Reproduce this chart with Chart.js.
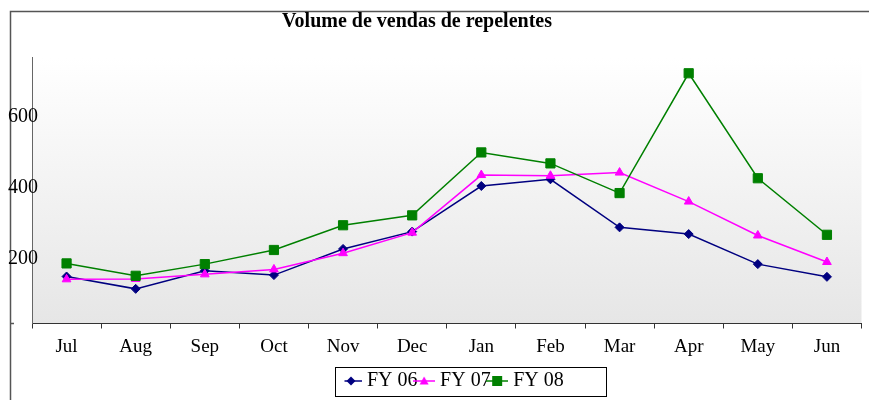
<!DOCTYPE html>
<html>
<head>
<meta charset="utf-8">
<script src="https://cdn.jsdelivr.net/npm/chart.js@4/dist/chart.umd.min.js"></script>
<style>
  html, body { margin: 0; padding: 0; background: #fff; }
  #wrap { width: 869px; height: 400px; }
</style>
</head>
<body>
<div id="wrap"><canvas id="vendas" width="869" height="400"></canvas></div>
<script>
// dados
const months = ["Jul", "Aug", "Sep", "Oct", "Nov", "Dec", "Jan", "Feb", "Mar", "Apr", "May", "Jun"];
const seriesNames = ["FY 06", "FY 07", "FY 08"];
const fy06 = [149, 114, 165, 153, 227, 276, 405, 424, 288, 269, 184, 148];
const fy07 = [141, 142, 155, 169, 215, 273, 436, 434, 443, 361, 265, 190];
const fy08 = [186, 151, 184, 224, 294, 322, 500, 469, 385, 724, 427, 267];
const yTicks = [200, 400, 600];

const serif = "'Liberation Serif', 'Times New Roman', serif";
const colors = ["#000080", "#ff00ff", "#008000"];
const styles = ["rectRot", "triangle", "rect"];

// posições do título e da legenda (fora do centro, como no original)
const titleCenterX = 417;
const legendX = 345;
const legendMidY = 381;

// ícone da legenda: linha + marcador
function legendIcon(color, style) {
  const c = document.createElement("canvas");
  c.width = 22;
  c.height = 12;
  const g = c.getContext("2d");
  g.strokeStyle = color;
  g.fillStyle = color;
  g.lineWidth = 1.5;
  g.beginPath();
  g.moveTo(0, 6);
  g.lineTo(22, 6);
  g.stroke();
  g.beginPath();
  if (style === "rectRot") {
    g.moveTo(11, 1.5); g.lineTo(15.5, 6); g.lineTo(11, 10.5); g.lineTo(6.5, 6);
  } else if (style === "triangle") {
    g.moveTo(11, 1.5); g.lineTo(15.5, 9.5); g.lineTo(6.5, 9.5);
  } else {
    g.rect(6, 1, 10, 10);
  }
  g.closePath();
  g.fill();
  return c;
}
const icons = colors.map((c, i) => legendIcon(c, styles[i]));

// fundo em degradê, moldura e caixa da legenda
const decor = {
  id: "decor",
  beforeDraw(chart) {
    const { ctx, chartArea: a } = chart;
    ctx.save();
    const grad = ctx.createLinearGradient(0, a.top, 0, a.bottom);
    grad.addColorStop(0, "#ffffff");
    grad.addColorStop(1, "#e6e6e6");
    ctx.fillStyle = grad;
    ctx.fillRect(a.left, a.top, a.right - a.left, a.bottom - a.top);
    ctx.strokeStyle = "#555";
    ctx.lineWidth = 1.5;
    ctx.beginPath();
    ctx.moveTo(10.5, 400);
    ctx.lineTo(10.5, 11.5);
    ctx.lineTo(869, 11.5);
    ctx.moveTo(10.5, a.bottom);
    ctx.lineTo(14, a.bottom);
    ctx.stroke();
    ctx.restore();
  },
  afterLayout(chart) {
    const t = chart.titleBlock;
    const w = t.right - t.left;
    t.left = titleCenterX - w / 2;
    t.right = t.left + w;
    const lg = chart.legend;
    const pad = lg.options.labels.padding;
    lg.left = legendX - pad;
    lg.top = legendMidY - pad - 10;
  },
  afterDraw(chart) {
    const ctx = chart.ctx;
    ctx.save();
    ctx.strokeStyle = "#000";
    ctx.lineWidth = 1;
    ctx.strokeRect(legendX - 9.5, legendMidY - 13.5, 271, 29);
    ctx.restore();
  }
};

const datasets = [fy06, fy07, fy08].map((vals, i) => ({
  label: seriesNames[i],
  data: vals,
  borderColor: colors[i],
  backgroundColor: colors[i],
  borderWidth: 1.5,
  pointStyle: styles[i],
  pointRadius: [4.5, 5, 6.5][i],
  pointBorderWidth: 1,
  tension: 0,
  order: 3 - i
}));

new Chart(document.getElementById("vendas"), {
  type: "line",
  data: { labels: months, datasets: datasets },
  options: {
    responsive: false,
    animation: false,
    layout: { padding: { left: 10, right: 7, top: 0, bottom: 0 } },
    plugins: {
      title: {
        display: true,
        text: "Volume de vendas de repelentes",
        color: "#000",
        font: { family: serif, size: 20, weight: "bold" },
        padding: { top: 9.5, bottom: 24 }
      },
      legend: {
        position: "bottom",
        align: "start",
        labels: {
          usePointStyle: true,
          pointStyleWidth: 12,
          padding: 0.5,
          color: "#000",
          font: { family: serif, size: 20 },
          generateLabels: (chart) => chart.data.datasets.map((ds, i) => ({
            text: ds.label,
            pointStyle: icons[i],
            datasetIndex: i,
            hidden: false,
            lineWidth: 0,
            fillStyle: ds.borderColor,
            strokeStyle: ds.borderColor,
            fontColor: "#000"
          }))
        }
      },
      tooltip: { enabled: false }
    },
    scales: {
      x: {
        type: "category",
        offset: true,
        grid: { display: true, offset: true, drawOnChartArea: false, drawTicks: true, tickLength: 5, color: "#333" },
        border: { color: "#333" },
        ticks: { color: "#000", font: { family: serif, size: 19 }, padding: 7, maxRotation: 0, autoSkip: false },
        afterFit: (s) => {
          const lh = s.chart.legend ? s.chart.legend.height : 0;
          s.height = 400 - 323.5 - lh;
        }
      },
      y: {
        min: 16,
        max: 768.6,
        grid: { display: false, drawTicks: false },
        border: { color: "#666" },
        // mirror evita o recorte: os rótulos passam por cima do eixo, como no original
        ticks: { color: "#000", font: { family: serif, size: 20 }, mirror: true, padding: -24 },
        afterBuildTicks: (s) => { s.ticks = yTicks.map((v) => ({ value: v })); },
        afterFit: (s) => { s.width = 22; }
      }
    }
  },
  plugins: [decor]
});
</script>
</body>
</html>
